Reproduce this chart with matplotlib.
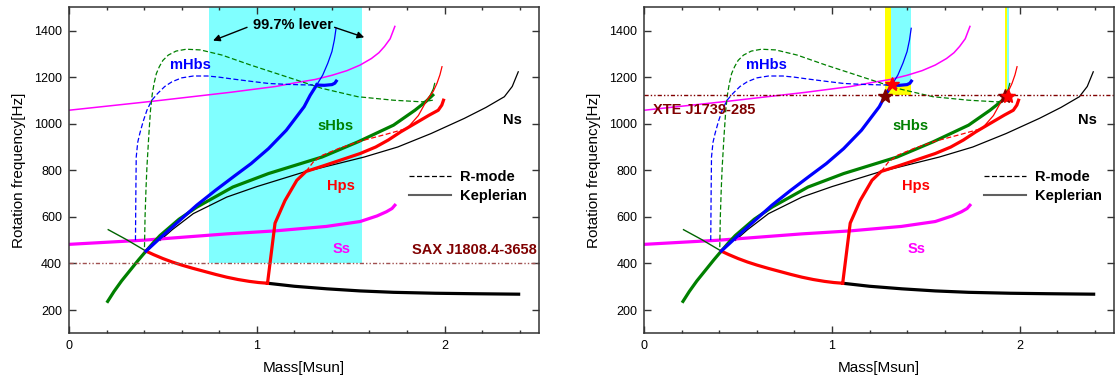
# %%

import matplotlib.pyplot as plt
from matplotlib.lines import Line2D
from matplotlib.ticker import MultipleLocator

plt.rcParams['font.family'] = ['Liberation Sans', 'DejaVu Sans']

# %%
# values: mass [Msun], rotation frequency [Hz]

# Ns (black)
ns_kep_m = [0.485, 0.55, 0.662, 0.84, 1.0, 1.253, 1.572, 1.75, 1.928, 2.105, 2.22, 2.318, 2.36, 2.392]
ns_kep_f = [499, 545, 614, 685, 730, 793, 857, 900, 958, 1023, 1070, 1116, 1160, 1223]
ns_low_m = [1.057, 1.2, 1.373, 1.55, 1.728, 1.95, 2.15, 2.394]
ns_low_f = [315, 302, 291, 282, 276, 272, 270, 268]

# Hps (red)
hps_kep_m = [1.057, 1.097, 1.15, 1.213, 1.262, 1.35, 1.443, 1.55, 1.633, 1.70, 1.766, 1.842, 1.918, 1.966, 1.985, 1.994]
hps_kep_f = [315, 573, 670, 757, 795, 818, 843, 872, 900, 930, 965, 1001, 1037, 1058, 1080, 1101]
hps_thin_m = [1.80, 1.86, 1.906, 1.94, 1.959, 1.975, 1.986]
hps_thin_f = [980, 1035, 1102, 1140, 1173, 1210, 1245]
hps_rmode_m = [1.262, 1.30, 1.35, 1.44, 1.55, 1.69, 1.80]
hps_rmode_f = [795, 835, 865, 895, 925, 955, 980]
hps_low_m = [0.41, 0.45, 0.5, 0.55, 0.6, 0.66, 0.72, 0.78, 0.84, 0.9, 0.96, 1.01, 1.057]
hps_low_f = [453, 438, 421, 406, 393, 379, 366, 353, 341, 331, 323, 318, 315]

# sHbs (green)
shbs_kep_m = [0.206, 0.24, 0.28, 0.33, 0.37, 0.41, 0.45, 0.485, 0.586, 0.681, 0.872, 1.062, 1.347, 1.538, 1.728, 1.842, 1.90, 1.937]
shbs_kep_f = [237, 280, 325, 375, 415, 453, 490, 520, 590, 642, 728, 786, 857, 922, 994, 1058, 1095, 1123]
shbs_thin_m = [1.90, 1.925, 1.94, 1.947]
shbs_thin_f = [1095, 1125, 1150, 1173]
shbs_rmode_m = [0.402, 0.405, 0.41, 0.415, 0.425, 0.434, 0.443, 0.453, 0.465, 0.481, 0.50, 0.529,
                0.57, 0.624, 0.70, 0.814, 0.967, 1.157, 1.347, 1.538, 1.728, 1.88, 1.937]
shbs_rmode_f = [470, 600, 720, 814, 950, 1058, 1125, 1173, 1215, 1245, 1272, 1295,
                1312, 1320, 1317, 1295, 1252, 1202, 1152, 1116, 1101, 1094, 1101]
shbs_low_m = [0.209, 0.307, 0.41]
shbs_low_f = [545, 502, 453]

# mHbs (blue)
mhbs_kep_m = [0.41, 0.5, 0.59, 0.68, 0.78, 0.88, 0.97, 1.062, 1.157, 1.252, 1.284, 1.32]
mhbs_kep_f = [453, 520, 585, 650, 714, 775, 829, 893, 972, 1073, 1122, 1168]
mhbs_thin_m = [1.32, 1.351, 1.378, 1.40, 1.413, 1.422]
mhbs_thin_f = [1168, 1209, 1260, 1310, 1360, 1410]
mhbs_hook_m = [1.32, 1.36, 1.40, 1.415, 1.423]
mhbs_hook_f = [1166, 1165, 1168, 1174, 1183]
mhbs_rmode_m = [0.354, 0.356, 0.358, 0.366, 0.377, 0.395, 0.415, 0.44, 0.472, 0.51, 0.548, 0.60,
                0.662, 0.738, 0.80, 0.872, 0.97, 1.062, 1.16, 1.25, 1.32]
mhbs_rmode_f = [500, 700, 857, 920, 958, 1010, 1058, 1100, 1130, 1160, 1180, 1197,
                1205, 1205, 1200, 1192, 1182, 1173, 1169, 1167, 1166]

# Ss (magenta)
ss_kep_m = [0, 0.45, 0.86, 1.1, 1.22, 1.31, 1.40, 1.48, 1.55, 1.61, 1.65, 1.68, 1.71, 1.735]
ss_kep_f = [1058, 1097, 1135, 1160, 1178, 1190, 1208, 1228, 1252, 1280, 1305, 1332, 1365, 1418]
ss_rmode_m = [0, 0.4, 0.84, 1.1, 1.37, 1.55, 1.64, 1.69, 1.72, 1.735]
ss_rmode_f = [482, 500, 527, 540, 559, 580, 604, 622, 636, 650]

# observed pulsars
sax_freq = 400
xte_freq = 1122

# 99.7% lever band (left panel)
lever_m = [0.746, 1.56]
lever_f = [400, 1500]

# XTE bands (right panel): yellow and cyan parts
xte_yellow_m = [[1.284, 1.422], [1.920, 1.944]]
xte_yellow_f = [[1122, 1500], [1122, 1500]]
xte_cyan_m = [[1.316, 1.422], [1.933, 1.944]]
xte_cyan_f = [[1170, 1500], [1122, 1500]]

# stars (right panel)
star_dark_m = [1.284, 1.922]
star_dark_f = [1120, 1119]
star_red_m = [1.319, 1.940]
star_red_f = [1169, 1119]

# %%

def draw_curves(ax):
    thick = 2.3
    thin = 0.9
    dash = (0, (4, 2))

    # Ns
    ax.plot(ns_kep_m, ns_kep_f, color='black', lw=thin)
    ax.plot(ns_low_m, ns_low_f, color='black', lw=thick)

    # Ss
    ax.plot(ss_kep_m, ss_kep_f, color='#ff00ff', lw=1.1)
    ax.plot(ss_rmode_m, ss_rmode_f, color='#ff00ff', lw=thick)

    # sHbs
    ax.plot(shbs_low_m, shbs_low_f, color='#006400', lw=1.0)
    ax.plot(shbs_rmode_m, shbs_rmode_f, color='#008000', lw=thin, linestyle=dash)
    ax.plot(shbs_thin_m, shbs_thin_f, color='#008000', lw=thin)
    ax.plot(shbs_kep_m, shbs_kep_f, color='#008000', lw=thick)

    # Hps
    ax.plot(hps_rmode_m, hps_rmode_f, color='red', lw=thin, linestyle=dash)
    ax.plot(hps_thin_m, hps_thin_f, color='red', lw=thin)
    ax.plot(hps_low_m, hps_low_f, color='red', lw=thick)
    ax.plot(hps_kep_m, hps_kep_f, color='red', lw=thick)

    # mHbs
    ax.plot(mhbs_rmode_m, mhbs_rmode_f, color='blue', lw=thin, linestyle=dash)
    ax.plot(mhbs_thin_m, mhbs_thin_f, color='blue', lw=thin)
    ax.plot(mhbs_hook_m, mhbs_hook_f, color='blue', lw=thick)
    ax.plot(mhbs_kep_m, mhbs_kep_f, color='blue', lw=thick)

    # labels of the star types
    bold = dict(fontsize=10.5, fontweight='bold', ha='center', va='center')
    ax.text(0.649, 1252, 'mHbs', color='blue', **bold)
    ax.text(1.42, 990, 'sHbs', color='#008000', **bold)
    ax.text(2.36, 1015, 'Ns', color='black', **bold)
    ax.text(1.446, 733, 'Hps', color='red', **bold)
    ax.text(1.452, 463, 'Ss', color='#ff00ff', **bold)


def style_axes(ax):
    ax.set_xlim(0, 2.5)
    ax.set_ylim(100, 1500)
    ax.xaxis.set_major_locator(MultipleLocator(1))
    ax.xaxis.set_minor_locator(MultipleLocator(0.2))
    ax.set_yticks([200, 400, 600, 800, 1000, 1200, 1400])
    ax.tick_params(which='both', direction='in', top=True, right=True,
                   labelsize=9, color='#333333', width=1.0)
    ax.tick_params(which='major', length=5, pad=5)
    ax.tick_params(which='minor', length=2.5)
    for sp in ax.spines.values():
        sp.set_linewidth(1.1)
        sp.set_color('#333333')
    ax.set_xlabel('Mass[Msun]', fontsize=11, labelpad=6)
    ax.set_ylabel('Rotation frequency[Hz]', fontsize=11, labelpad=6)

    # legend
    handles = [Line2D([], [], color='black', lw=0.9, linestyle=(0, (4, 2))),
               Line2D([], [], color='#606060', lw=1.5)]
    ax.legend(handles, ['R-mode', 'Keplerian'], loc='upper left',
              bbox_to_anchor=(0.696, 0.542), frameon=False,
              handlelength=2.9, handletextpad=0.57, labelspacing=0.35,
              borderpad=0.4, prop=dict(size=10.5, weight='bold'))


# %%

fig = plt.figure(figsize=(11.18, 3.75), dpi=100)
ax1 = fig.add_axes([0.0617, 0.1112, 0.420, 0.8693])
ax2 = fig.add_axes([0.5763, 0.1112, 0.4197, 0.8693])

# left panel: SAX J1808.4-3658
ax1.fill_between(lever_m, lever_f[0], lever_f[1], color='#80ffff', lw=0, zorder=0)
draw_curves(ax1)
ax1.axhline(sax_freq, color='#a05050', lw=1.0, linestyle=(0, (3, 1.5, 1, 1.5, 1, 1.5)))
ax1.text(2.49, 456, 'SAX J1808.4-3658', color='#800000', fontsize=10.5,
         fontweight='bold', ha='right', va='center')
ax1.text(1.195, 1424, '99.7% lever', color='black', fontsize=10.5,
         fontweight='bold', ha='center', va='center')
ax1.annotate('', xy=(0.767, 1357), xytext=(0.948, 1414),
             arrowprops=dict(arrowstyle='-|>', color='black', lw=1.0,
                             mutation_scale=10, shrinkA=0, shrinkB=0))
ax1.annotate('', xy=(1.572, 1371), xytext=(1.414, 1414),
             arrowprops=dict(arrowstyle='-|>', color='black', lw=1.0,
                             mutation_scale=10, shrinkA=0, shrinkB=0))
style_axes(ax1)

# right panel: XTE J1739-285
for m, f in zip(xte_yellow_m, xte_yellow_f):
    ax2.fill_between(m, f[0], f[1], color='yellow', lw=0, zorder=0)
for m, f in zip(xte_cyan_m, xte_cyan_f):
    ax2.fill_between(m, f[0], f[1], color='#80ffff', lw=0, zorder=0)
draw_curves(ax2)
ax2.axhline(xte_freq, color='#800000', lw=1.0, linestyle=(0, (3, 1.5, 1, 1.5, 1, 1.5)))
ax2.text(0.045, 1058, 'XTE J1739-285', color='#800000', fontsize=10.5,
         fontweight='bold', ha='left', va='center')
ax2.plot(star_dark_m, star_dark_f, linestyle='none', marker='*', markersize=10,
         color='#800000', zorder=5)
ax2.plot(star_red_m, star_red_f, linestyle='none', marker='*', markersize=10,
         color='red', zorder=5)
style_axes(ax2)

plt.savefig('out.png', dpi=100)
